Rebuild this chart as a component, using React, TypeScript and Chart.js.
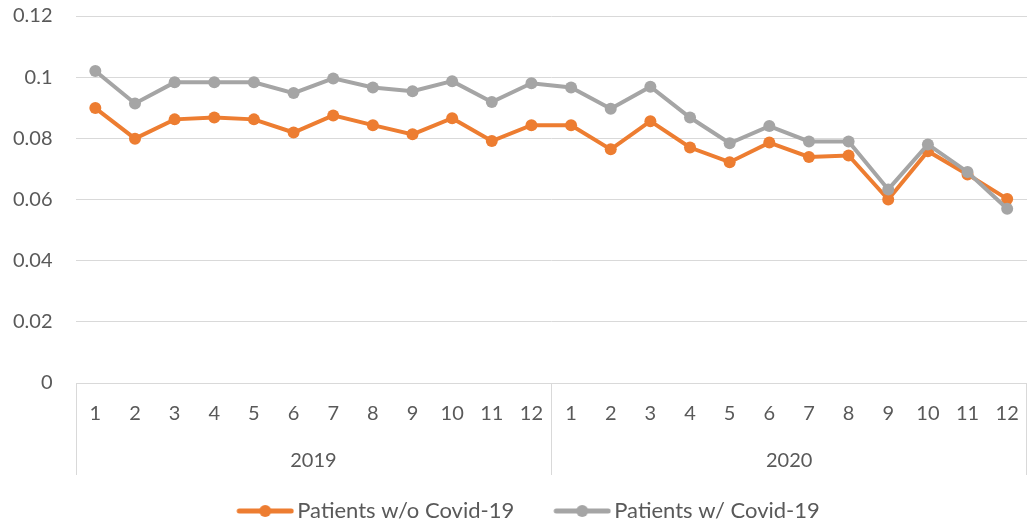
import React, { useEffect, useRef } from "react";
import { Chart, registerables } from "chart.js";

Chart.register(...registerables);

const months = ["1", "2", "3", "4", "5", "6", "7", "8", "9", "10", "11", "12", "1", "2", "3", "4", "5", "6", "7", "8", "9", "10", "11", "12"];
const years = ["2019", "2020"];
const withoutCovid = [0.0899, 0.0799, 0.0862, 0.0868, 0.0862, 0.0819, 0.0875, 0.0843, 0.0813, 0.0866, 0.0791, 0.0843,
  0.0843, 0.0764, 0.0856, 0.0770, 0.0722, 0.0786, 0.0739, 0.0744, 0.0600, 0.0758, 0.0682, 0.0602];
const withCovid = [0.1020, 0.0914, 0.0983, 0.0983, 0.0983, 0.0948, 0.0996, 0.0966, 0.0954, 0.0987, 0.0919, 0.0980,
  0.0966, 0.0897, 0.0969, 0.0868, 0.0784, 0.0840, 0.0790, 0.0790, 0.0633, 0.0780, 0.0690, 0.0570];
const seriesNames = ["Patients w/o Covid-19", "Patients w/ Covid-19"];
const seriesColors = ["#ED7D31", "#A5A5A5"];

const FONT = "Lato, 'Open Sans', sans-serif";
const TEXT = "#595959";
const GRID = "#D9D9D9";
const CLEAR = "rgba(0,0,0,0)";

function makeMarker(color: string): HTMLCanvasElement {
  const c = document.createElement("canvas");
  c.width = 95;
  c.height = 14;
  const ctx = c.getContext("2d")!;
  ctx.strokeStyle = color;
  ctx.lineWidth = 5;
  ctx.lineCap = "round";
  ctx.beginPath();
  ctx.moveTo(40, 7);
  ctx.lineTo(92, 7);
  ctx.stroke();
  ctx.fillStyle = color;
  ctx.beginPath();
  ctx.arc(66, 7, 6, 0, Math.PI * 2);
  ctx.fill();
  return c;
}

const separatorPlugin = {
  id: "yearSeparators",
  afterDraw(chart: any) {
    const xs = chart.scales.x;
    const ys = chart.scales.year;
    if (!xs || !ys) return;
    const ctx = chart.ctx;
    const top = chart.chartArea.bottom;
    const bottom = ys.bottom - 15;
    const xsPos = [xs.left];
    for (let i = 1; i < months.length; i++) {
      if (months[i] === "1") {
        xsPos.push((xs.getPixelForValue(i - 1) + xs.getPixelForValue(i)) / 2);
      }
    }
    xsPos.push(xs.right - 1);
    ctx.save();
    ctx.strokeStyle = GRID;
    ctx.lineWidth = 1;
    xsPos.forEach((x) => {
      const px = Math.round(x) + 0.5;
      ctx.beginPath();
      ctx.moveTo(px, top);
      ctx.lineTo(px, bottom);
      ctx.stroke();
    });
    ctx.restore();
  },
};

export default function App() {
  const ref = useRef<HTMLCanvasElement | null>(null);

  useEffect(() => {
    if (!ref.current) return;
    const markers = seriesColors.map(makeMarker);
    const chart = new Chart(ref.current, {
      type: "line",
      data: {
        labels: months,
        datasets: [
          {
            label: seriesNames[0],
            data: withoutCovid,
            borderColor: seriesColors[0],
            backgroundColor: seriesColors[0],
            borderWidth: 4,
            pointRadius: 6,
            pointBorderWidth: 0,
            pointHoverRadius: 6,
            tension: 0,
            order: 2,
          },
          {
            label: seriesNames[1],
            data: withCovid,
            borderColor: seriesColors[1],
            backgroundColor: seriesColors[1],
            borderWidth: 4,
            pointRadius: 6,
            pointBorderWidth: 0,
            pointHoverRadius: 6,
            tension: 0,
            order: 1,
          },
        ],
      },
      options: {
        responsive: false,
        animation: false,
        layout: { autoPadding: false, padding: { top: 16, left: 0, right: 0, bottom: -3 } },
        plugins: {
          tooltip: { enabled: false },
          legend: {
            position: "bottom",
            labels: {
              usePointStyle: true,
              pointStyleWidth: 79,
              padding: 10,
              color: TEXT,
              font: { family: FONT, size: 22 },
              generateLabels: (c: any) =>
                c.data.datasets.map((ds: any, i: number) => ({
                  text: ds.label,
                  pointStyle: markers[i],
                  fillStyle: seriesColors[i],
                  strokeStyle: seriesColors[i],
                  lineWidth: 0,
                  hidden: false,
                  datasetIndex: i,
                  fontColor: TEXT,
                })),
            },
          },
        },
        scales: {
          x: {
            type: "category",
            position: "bottom",
            offset: true,
            grid: { display: true, drawOnChartArea: false, drawTicks: true, tickLength: 19, tickColor: CLEAR, color: CLEAR },
            border: { display: false },
            ticks: {
              color: TEXT,
              font: { family: FONT, size: 20 },
              padding: 0,
              maxRotation: 0,
              autoSkip: false,
            },
          },
          year: {
            type: "category",
            position: "bottom",
            labels: years,
            offset: true,
            grid: { display: true, drawOnChartArea: false, drawTicks: true, tickLength: 23, tickColor: CLEAR, color: CLEAR },
            border: { display: false },
            ticks: {
              color: TEXT,
              font: { family: FONT, size: 20 },
              padding: 0,
              maxRotation: 0,
              autoSkip: false,
            },
            afterFit: (scale: any) => {
              scale.height += 17;
            },
          },
          y: {
            min: 0,
            max: 0.12,
            grid: { color: GRID, lineWidth: 1, drawTicks: true, tickLength: 23, tickColor: CLEAR },
            border: { display: false },
            ticks: {
              stepSize: 0.02,
              color: TEXT,
              font: { family: FONT, size: 20 },
              padding: 0,
              callback: (v: any) => String(+Number(v).toFixed(2)),
            },
            afterFit: (scale: any) => {
              scale.width += 13;
            },
          },
        },
      },
      plugins: [separatorPlugin],
    });
    return () => chart.destroy();
  }, []);

  return (
    <div style={{ position: "fixed", left: 0, top: 0, width: 1027, height: 529, background: "#fff" }}>
      <canvas ref={ref} width={1027} height={529} />
    </div>
  );
}
